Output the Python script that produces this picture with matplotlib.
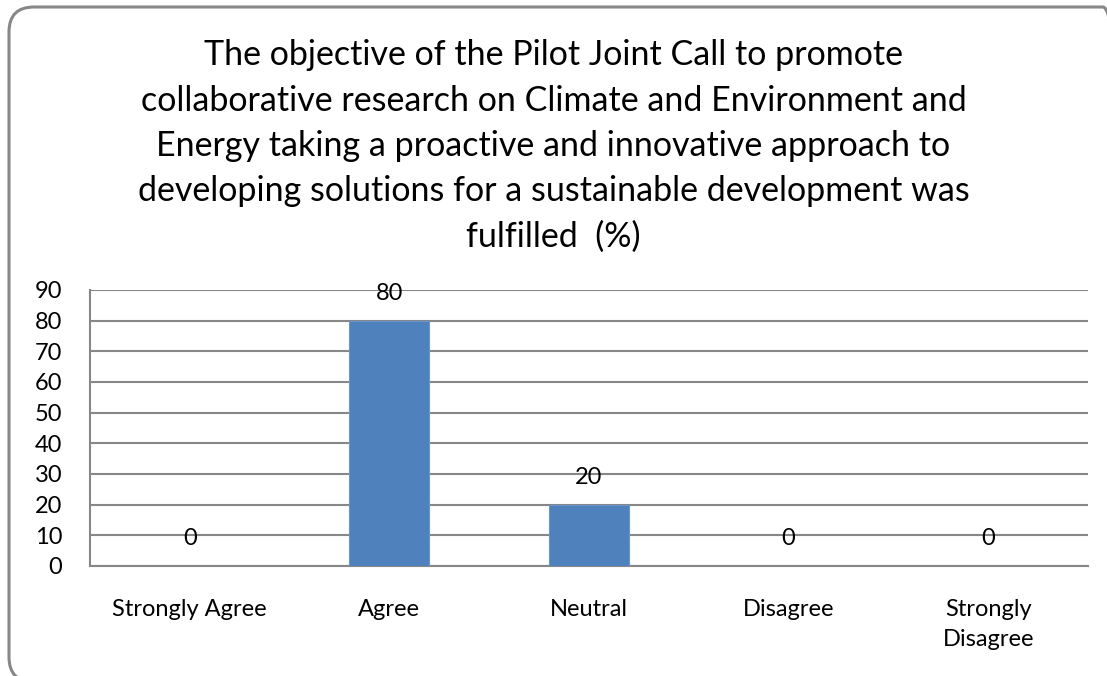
import matplotlib
matplotlib.use("Agg")
import matplotlib.pyplot as plt
from matplotlib.patches import FancyBboxPatch

categories = ["Strongly Agree", "Agree", "Neutral", "Disagree", "Strongly\nDisagree"]
values = [0, 80, 20, 0, 0]
yticks = [0, 10, 20, 30, 40, 50, 60, 70, 80, 90]
title = ("The objective of the Pilot Joint Call to promote\n"
         "collaborative research on Climate and Environment and\n"
         "Energy taking a proactive and innovative approach to\n"
         "developing solutions for a sustainable development was\n"
         "fulfilled  (%)")

plt.rcParams['font.family'] = ['Lato', 'DejaVu Sans']
W, H = 1107, 676
fig = plt.figure(figsize=(W / 100, H / 100), dpi=100)
fig.patch.set_facecolor('white')

# rounded frame (pixel units via inches at 100 dpi)
left_px, top_px, right_px, bottom_px = 9, 7, 1128, 682
frame = FancyBboxPatch((left_px / 100, (H - bottom_px) / 100),
                       (right_px - left_px) / 100, (bottom_px - top_px) / 100,
                       boxstyle="round,pad=0,rounding_size=0.25",
                       transform=fig.dpi_scale_trans, facecolor='none',
                       edgecolor='#878787', linewidth=2.2, zorder=0)
fig.patches.append(frame)

ax = fig.add_axes([90 / W, 1 - 566 / H, (1088 - 90) / W, (566 - 290) / H])
ax.set_facecolor('none')
x = list(range(len(categories)))
ax.bar(x, values, width=0.4, color='#4F81BD', edgecolor='#6A95C9', linewidth=0.8, zorder=3)
for xi, v in zip(x, values):
    ax.annotate(str(v), (xi, v), xytext=(0, 19.5), textcoords='offset points',
                ha='center', va='center', fontsize=17, color='black', zorder=4)

ax.set_xlim(-0.5, len(categories) - 0.5)
ax.set_ylim(0, 90)
ax.set_yticks(yticks)
ax.set_yticklabels([str(t) for t in yticks])
ax.set_xticks(x)
ax.set_xticklabels(categories, linespacing=1.5)
ax.tick_params(axis='both', length=0, labelsize=17, colors='black')
ax.tick_params(axis='y', pad=20)
ax.tick_params(axis='x', pad=24)
ax.grid(axis='y', color='#878787', linewidth=1.5, zorder=1)
for s in ['top', 'right']:
    ax.spines[s].set_visible(False)
for s in ['left', 'bottom']:
    ax.spines[s].set_color('#878787')
    ax.spines[s].set_linewidth(1.5)

fig.text(0.5, 1 - 146 / H, title, ha='center', va='center', fontsize=24.5,
         linespacing=1.51, color='black')

fig.savefig('out.png', dpi=100, facecolor='white')
